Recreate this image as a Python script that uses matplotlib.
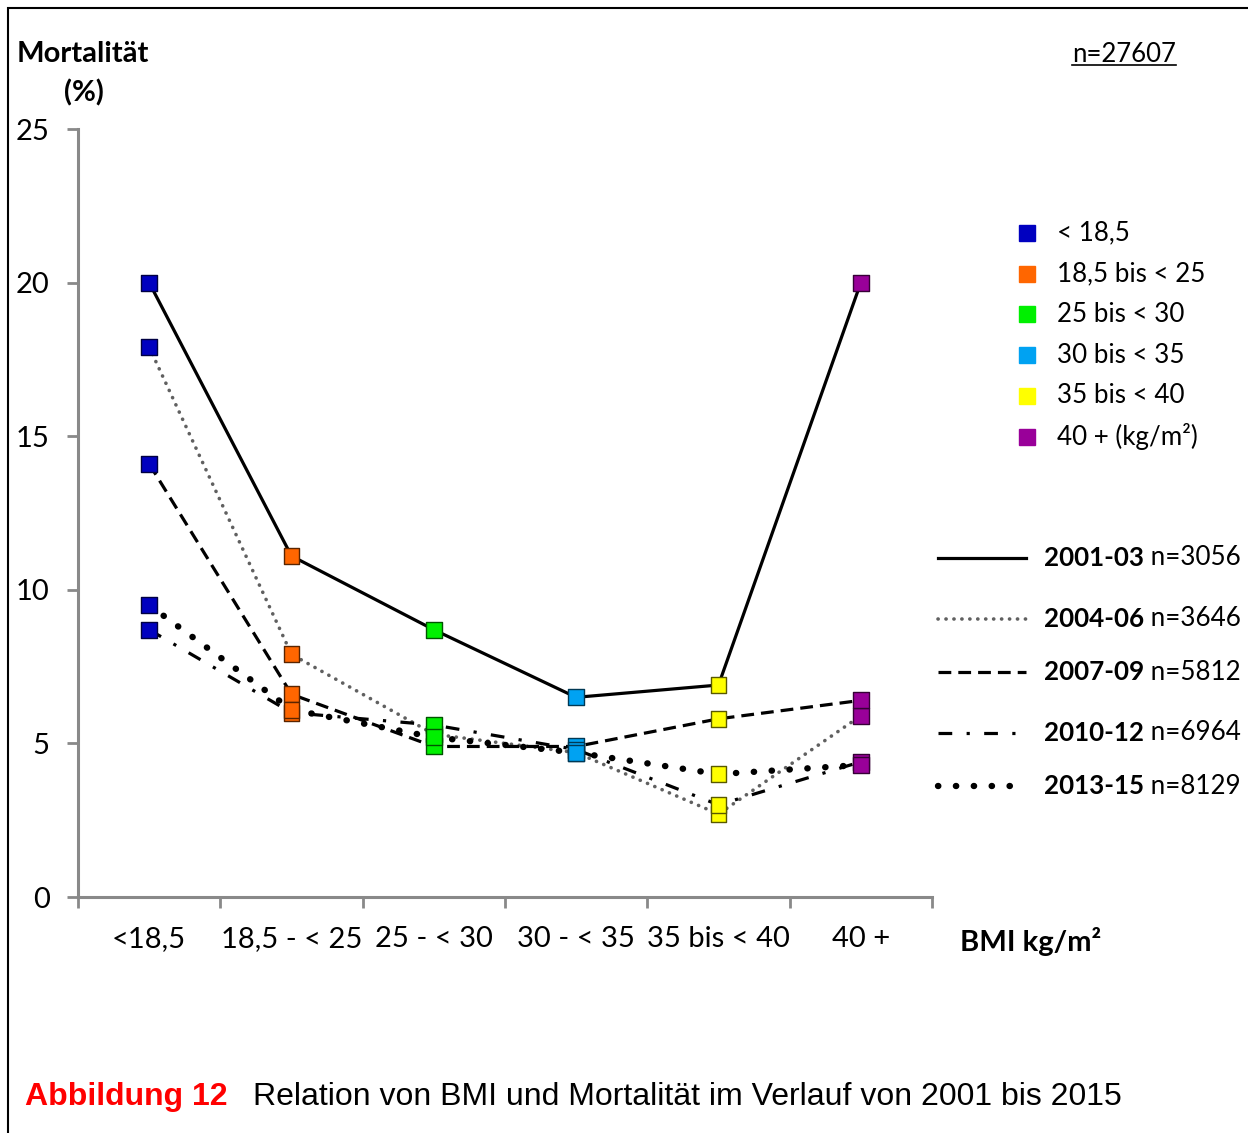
import numpy as np
import matplotlib
matplotlib.use("Agg")
import matplotlib.pyplot as plt
from matplotlib.lines import Line2D
from matplotlib.patches import Rectangle
from matplotlib.colors import to_rgb

# daten
categories = ["<18,5", "18,5 - < 25", "25 - < 30", "30 - < 35", "35 bis < 40", "40 +"]
group_labels = ["< 18,5", "18,5 bis < 25", "25 bis < 30", "30 bis < 35", "35 bis < 40", "40 + (kg/m²)"]
group_colors = ["#0000C0", "#FF6600", "#00F000", "#00A2F2", "#FFFF00", "#990099"]

periods = ["2001-03", "2004-06", "2007-09", "2010-12", "2013-15"]
period_n = ["n=3056", "n=3646", "n=5812", "n=6964", "n=8129"]

mort_2001_03 = [20.0, 11.1, 8.7, 6.5, 6.9, 20.0]
mort_2004_06 = [17.9, 7.9, 5.3, 4.7, 2.7, 5.9]
mort_2007_09 = [14.1, 6.6, 4.9, 4.9, 5.8, 6.4]
mort_2010_12 = [8.7, 6.0, 5.6, 4.8, 3.0, 4.4]
mort_2013_15 = [9.5, 6.1, 5.2, 4.7, 4.0, 4.3]
series = [mort_2001_03, mort_2004_06, mort_2007_09, mort_2010_12, mort_2013_15]

yticks = [0, 5, 10, 15, 20, 25]

# linienstile
styles = [
    dict(color="black", lw=2.3, linestyle="-"),
    dict(color="#606060", lw=2.6, linestyle=(0, (0.05, 2.15)), dash_capstyle="round"),
    dict(color="black", lw=2.3, linestyle=(0, (4, 2.2))),
    dict(color="black", lw=2.3, linestyle=(0, (4.3, 4.5, 1.0, 4.5))),
    dict(color="black", lw=4.6, linestyle=(0, (0.05, 2.75)), dash_capstyle="round"),
]

W, H = 1248, 1133
def fx(p):
    return p / W
def fy(p):
    return 1 - p / H

CAL = ["Lato", "DejaVu Sans"]
ARIAL = ["Liberation Sans", "DejaVu Sans"]

fig = plt.figure(figsize=(W / 100, H / 100), dpi=100)
ax = fig.add_axes([fx(78), fy(897), fx(932) - fx(78), fy(129) - fy(897)])

x = np.arange(len(categories))
edge_cols = [tuple(c * 0.35 for c in to_rgb(col)) for col in group_colors]
for i, vals in enumerate(series):
    ax.plot(x, vals, zorder=2 + 2 * i, **styles[i])
    ax.scatter(x, vals, marker="s", s=11.5 ** 2, c=group_colors, edgecolors=edge_cols,
               linewidths=1.0, zorder=3 + 2 * i)

ax.set_xlim(-0.5, len(categories) - 0.5)
ax.set_ylim(0, 25)
ax.set_yticks(yticks)
ax.set_yticklabels([str(t) for t in yticks], fontsize=21, family=CAL)
ax.set_xticks(x)
ax.set_xticklabels(categories, fontsize=21, family=CAL)
ax.set_xticks(np.arange(-0.5, len(categories)), minor=True)
ax.tick_params(axis="x", which="major", length=0, pad=21)
ax.tick_params(axis="x", which="minor", length=8, width=2, color="#898989", direction="out")
ax.tick_params(axis="y", length=8, width=2, color="#898989", direction="out", pad=12.5)
for s in ["top", "right"]:
    ax.spines[s].set_visible(False)
for s in ["left", "bottom"]:
    ax.spines[s].set_color("#898989")
    ax.spines[s].set_linewidth(2.2)

# titel / achsentexte
fig.text(fx(17), fy(54), "Mortalität", fontsize=21, fontweight="bold", family=CAL, va="center")
fig.text(fx(84), fy(93), "(%)", fontsize=21, fontweight="bold", family=CAL, va="center", ha="center")
fig.text(fx(960), fy(942), "BMI kg/m²", fontsize=21, fontweight="bold", family=CAL, va="center")
tn = fig.text(fx(1072), fy(55), "n=27607", fontsize=18.5, family=CAL, va="center")

# legende farben
for i, (lab, col) in enumerate(zip(group_labels, group_colors)):
    yy = 233 + i * 40.7
    fig.add_artist(Line2D([fx(1027)], [fy(yy)], marker="s", markersize=11, color=col,
                          linestyle="none", transform=fig.transFigure))
    fig.text(fx(1057), fy(yy), lab, fontsize=18.7, family=CAL, va="center")

# legende linien
leg_y = [558, 619, 672, 733, 786]
for i, yy in enumerate(leg_y):
    fig.add_artist(Line2D([fx(938), fx(1026)], [fy(yy), fy(yy)], transform=fig.transFigure,
                          **styles[i]))
    tb = fig.text(fx(1044), fy(yy), periods[i], fontsize=18.7, fontweight="bold", family=CAL,
                  va="center")
    ax.annotate(" " + period_n[i], xy=(1, 0.5), xycoords=tb, va="center", ha="left",
                fontsize=18.7, family=CAL, annotation_clip=False)

# bildunterschrift
fig.text(fx(25), fy(1097), "Abbildung 12", fontsize=23, fontweight="bold", color="#FF0000",
         family=ARIAL, va="center")
fig.text(fx(253), fy(1097), "Relation von BMI und Mortalität im Verlauf von 2001 bis 2015",
         fontsize=23, family=ARIAL, va="center")

# rahmen
fig.add_artist(Rectangle((fx(8), -0.05), 1.2, fy(8) + 0.05, fill=False, edgecolor="black",
                         lw=1.5, transform=fig.transFigure))

# unterstreichen n=27607
fig.canvas.draw()
bb = tn.get_window_extent().transformed(fig.transFigure.inverted())
fig.add_artist(Line2D([bb.x0, bb.x1], [bb.y0 + 0.002, bb.y0 + 0.002], color="black", lw=1.2,
                      transform=fig.transFigure))

fig.savefig("out.png", dpi=100)
